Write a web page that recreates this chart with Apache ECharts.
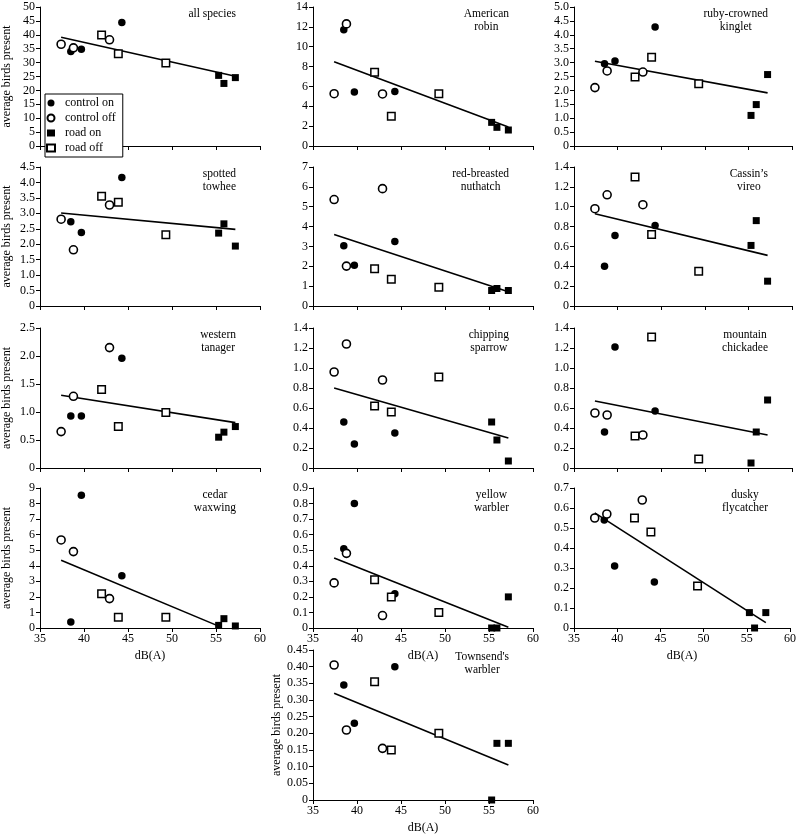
<!DOCTYPE html>
<html>
<head>
<meta charset="utf-8">
<title>average birds present vs dB(A)</title>
<script src="https://cdn.jsdelivr.net/npm/echarts@6.0.0/dist/echarts.min.js"></script>
<style>
  html, body { margin: 0; padding: 0; background: #fff; }
  #chart { width: 799px; height: 835px; }
</style>
</head>
<body>
<div id="chart"></div>
<script>
'use strict';

// panel titles
var species = ['all species', 'American\nrobin', 'ruby-crowned\nkinglet',
    'spotted\ntowhee', 'red-breasted\nnuthatch', 'Cassin\u2019s\nvireo',
    'western\ntanager', 'chipping\nsparrow', 'mountain\nchickadee',
    'cedar\nwaxwing', 'yellow\nwarbler', 'dusky\nflycatcher', 'Townsend\'s\nwarbler'];

// noise level dB(A) of each site, same in every panel
var xControlOn = [38.5, 39.7, 44.3];
var xControlOff = [37.4, 38.8, 42.9];
var xRoadOff = [42.0, 43.9, 49.3];
var xRoadOn = [55.3, 55.9, 57.2];

// average birds present, one row per panel
var controlOn = [
    [34.0, 34.8, 44.4], [11.7, 5.45, 5.5], [2.96, 3.06, 4.28], [2.73, 2.38, 4.16],
    [3.03, 2.05, 3.25], [0.40, 0.71, 0.81], [0.93, 0.93, 1.96], [0.46, 0.24, 0.35],
    [0.36, 1.21, 0.57], [0.39, 8.53, 3.36], [0.51, 0.80, 0.22], [0.54, 0.31, 0.23],
    [0.345, 0.23, 0.40]
];
var controlOff = [
    [36.6, 35.3, 38.2], [5.27, 12.3, 5.24], [2.10, 2.70, 2.66], [2.81, 1.82, 3.27],
    [5.36, 2.01, 5.91], [0.98, 1.12, 1.02], [0.65, 1.28, 2.15], [0.96, 1.24, 0.88],
    [0.55, 0.53, 0.33], [5.66, 4.91, 1.89], [0.29, 0.48, 0.08], [0.55, 0.57, 0.64],
    [0.405, 0.21, 0.155]
];
var roadOff = [
    [39.9, 33.2, 29.9], [7.42, 2.99, 5.27], [2.48, 3.19, 2.24], [3.55, 3.36, 2.31],
    [1.87, 1.35, 0.95], [1.30, 0.72, 0.35], [1.40, 0.74, 0.99], [0.62, 0.56, 0.91],
    [0.32, 1.31, 0.09], [2.20, 0.69, 0.69], [0.31, 0.20, 0.10], [0.55, 0.48, 0.21],
    [0.355, 0.15, 0.20]
];
var roadOn = [
    [25.4, 22.5, 24.6], [2.38, 1.88, 1.61], [1.10, 1.49, 2.57], [2.36, 2.66, 1.94],
    [0.78, 0.88, 0.78], [0.61, 0.86, 0.25], [0.55, 0.64, 0.74], [0.46, 0.28, 0.07],
    [0.05, 0.36, 0.68], [0.17, 0.60, 0.13], [0, 0, 0.20], [0.077, 0, 0.077],
    [0, 0.17, 0.17]
];

// fitted line ends [x, y]
var lineStart = [
    [37.4, 39.1], [37.4, 8.49], [37.4, 3.05], [37.4, 3.01], [37.4, 3.60], [37.4, 0.93],
    [37.4, 1.30], [37.4, 0.80], [37.4, 0.67], [37.4, 4.35], [37.4, 0.45], [37.4, 0.576],
    [37.4, 0.32]
];
var lineEnd = [
    [57.2, 25.1], [57.2, 1.91], [57.2, 1.91], [57.2, 2.48], [57.2, 0.72], [57.2, 0.51],
    [57.2, 0.81], [57.2, 0.30], [57.2, 0.33], [55.3, 0.12], [57.2, 0.005], [57.2, 0.027],
    [57.2, 0.105]
];

// y axis scale of each panel
var yMax = [50, 14, 5, 4.5, 7, 1.4, 2.5, 1.4, 1.4, 9, 0.9, 0.7, 0.45];
var yStep = [5, 2, 0.5, 0.5, 1, 0.2, 0.5, 0.2, 0.2, 1, 0.1, 0.1, 0.05];
var yDecimals = [0, 0, 1, 1, 0, 1, 1, 1, 1, 0, 1, 1, 2];
var xTicks = [35, 40, 45, 50, 55, 60];

// layout
var FONT = '"Liberation Serif", "Times New Roman", serif';
var colLeft = [39, 313, 574];
var colWidth = [221, 220, 218];
var rowTop = [7, 167, 328, 488, 650];
var rowHeight = [139, 139, 140, 140, 157];

var measure = document.createElement('canvas').getContext('2d');
measure.font = '11.5px "Liberation Serif"';
function textWidth(s) {
    var w = 0;
    s.split('\n').forEach(function (line) {
        w = Math.max(w, measure.measureText(line).width);
    });
    return w;
}

function pairs(xs, ys) {
    return xs.map(function (x, i) { return [x, ys[i]]; });
}

var grids = [], xAxes = [], yAxes = [], titles = [], series = [];

var groups = [
    { name: 'control on', xs: xControlOn, ys: controlOn, symbol: 'circle', size: 7.5, fill: '#000', border: 0 },
    { name: 'control off', xs: xControlOff, ys: controlOff, symbol: 'circle', size: 8, fill: '#fff', border: 1.6 },
    { name: 'road on', xs: xRoadOn, ys: roadOn, symbol: 'rect', size: 7, fill: '#000', border: 0 },
    { name: 'road off', xs: xRoadOff, ys: roadOff, symbol: 'rect', size: 7.5, fill: '#fff', border: 1.5 }
];

species.forEach(function (title, p) {
    var row = p < 12 ? Math.floor(p / 3) : 4;
    var col = p < 12 ? p % 3 : 1;
    var bottomRow = row >= 3;
    var leftCol = col === 0 || p === 12;
    var right = colLeft[col] + colWidth[col];

    grids.push({ left: colLeft[col], top: rowTop[row], width: colWidth[col], height: rowHeight[row] });

    xAxes.push({
        type: 'value', gridIndex: p, min: xTicks[0], max: xTicks[xTicks.length - 1], interval: 5,
        name: bottomRow ? 'dB(A)' : '', nameLocation: 'middle', nameGap: 22,
        nameTextStyle: { fontFamily: FONT, fontSize: 12, color: '#000' },
        axisLine: { lineStyle: { color: '#000', width: 1 } },
        axisTick: { show: true, length: 4, lineStyle: { color: '#000' } },
        axisLabel: { show: bottomRow, margin: 5, fontFamily: FONT, fontSize: 12, color: '#000' },
        splitLine: { show: false }
    });

    yAxes.push({
        type: 'value', gridIndex: p, min: 0, max: yMax[p], interval: yStep[p],
        name: leftCol ? 'average birds present' : '', nameLocation: 'middle', nameGap: 27,
        nameTextStyle: { fontFamily: FONT, fontSize: 12, color: '#000' },
        axisLine: { show: true, lineStyle: { color: '#000', width: 1 } },
        axisTick: { show: true, length: 4, lineStyle: { color: '#000' } },
        axisLabel: {
            margin: 5, fontFamily: FONT, fontSize: 12, color: '#000',
            formatter: function (v) { return v === 0 ? '0' : v.toFixed(yDecimals[p]); }
        },
        splitLine: { show: false }
    });

    titles.push({
        text: title, left: right - 24 - textWidth(title) / 2, top: rowTop[row] + 1,
        textAlign: 'center', padding: 0,
        textStyle: { fontFamily: FONT, fontSize: 11.5, fontWeight: 'normal', color: '#000', lineHeight: 12.5 }
    });

    series.push({
        type: 'line', xAxisIndex: p, yAxisIndex: p, z: 1, silent: true,
        symbol: 'none', data: [lineStart[p], lineEnd[p]],
        lineStyle: { color: '#000', width: 1.6 }
    });

    groups.forEach(function (g) {
        series.push({
            name: g.name, type: 'scatter', xAxisIndex: p, yAxisIndex: p, z: 3,
            symbol: g.symbol, symbolSize: g.size,
            data: pairs(g.xs, g.ys[p]),
            itemStyle: { color: g.fill, borderColor: '#000', borderWidth: g.border, opacity: 1 }
        });
    });
});

var myChart = echarts.init(document.getElementById('chart'), null, { renderer: 'canvas' });
myChart.setOption({
    animation: false,
    backgroundColor: '#fff',
    title: titles,
    legend: {
        data: ['control on', 'control off', 'road on', 'road off'],
        orient: 'vertical', left: 45, top: 94,
        itemWidth: 8, itemHeight: 7, itemGap: 3,
        padding: [3, 7, 3, 1],
        borderColor: '#000', borderWidth: 1, backgroundColor: '#fff',
        selectedMode: false,
        textStyle: { fontFamily: FONT, fontSize: 12, color: '#000', padding: [0, 0, 0, 5], lineHeight: 10 }
    },
    grid: grids,
    xAxis: xAxes,
    yAxis: yAxes,
    series: series
});
</script>
</body>
</html>
